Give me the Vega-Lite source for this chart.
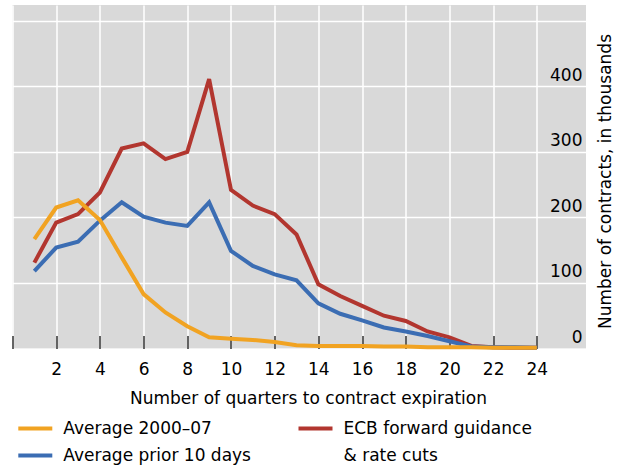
{
  "$schema": "https://vega.github.io/schema/vega-lite/v6.json",
  "autosize": {"type": "none"},
  "padding": {"left": 12.5, "top": 5, "right": 35, "bottom": 117.5},
  "width": 573.5,
  "height": 343.5,
  "background": "white",
  "config": {
    "font": "DejaVu Sans",
    "view": {"fill": "#d9d9d9", "stroke": null},
    "axis": {"labelFont": "DejaVu Sans", "titleFont": "DejaVu Sans", "labelColor": "black", "titleColor": "black", "titleFontWeight": "normal", "gridColor": "white", "gridOpacity": 1, "gridWidth": 1.5, "domain": false},
    "legend": {"labelFont": "DejaVu Sans", "labelFontSize": 17, "labelColor": "black", "symbolType": "stroke", "symbolSize": 1156, "symbolStrokeWidth": 4, "labelOffset": 9, "padding": 0, "rowPadding": -5, "labelLimit": 400, "orient": "none", "title": null}
  },
  "data": {
    "values": [
      {"q": 1, "v": 131, "s": "ECB forward guidance & rate cuts"},
      {"q": 2, "v": 192, "s": "ECB forward guidance & rate cuts"},
      {"q": 3, "v": 205, "s": "ECB forward guidance & rate cuts"},
      {"q": 4, "v": 238, "s": "ECB forward guidance & rate cuts"},
      {"q": 5, "v": 305, "s": "ECB forward guidance & rate cuts"},
      {"q": 6, "v": 313, "s": "ECB forward guidance & rate cuts"},
      {"q": 7, "v": 289, "s": "ECB forward guidance & rate cuts"},
      {"q": 8, "v": 300, "s": "ECB forward guidance & rate cuts"},
      {"q": 9, "v": 411, "s": "ECB forward guidance & rate cuts"},
      {"q": 10, "v": 242, "s": "ECB forward guidance & rate cuts"},
      {"q": 11, "v": 218, "s": "ECB forward guidance & rate cuts"},
      {"q": 12, "v": 205, "s": "ECB forward guidance & rate cuts"},
      {"q": 13, "v": 174, "s": "ECB forward guidance & rate cuts"},
      {"q": 14, "v": 98, "s": "ECB forward guidance & rate cuts"},
      {"q": 15, "v": 80, "s": "ECB forward guidance & rate cuts"},
      {"q": 16, "v": 65, "s": "ECB forward guidance & rate cuts"},
      {"q": 17, "v": 50, "s": "ECB forward guidance & rate cuts"},
      {"q": 18, "v": 42, "s": "ECB forward guidance & rate cuts"},
      {"q": 19, "v": 26, "s": "ECB forward guidance & rate cuts"},
      {"q": 20, "v": 17, "s": "ECB forward guidance & rate cuts"},
      {"q": 21, "v": 4, "s": "ECB forward guidance & rate cuts"},
      {"q": 22, "v": 2, "s": "ECB forward guidance & rate cuts"},
      {"q": 23, "v": 1, "s": "ECB forward guidance & rate cuts"},
      {"q": 24, "v": 1, "s": "ECB forward guidance & rate cuts"},
      {"q": 1, "v": 118, "s": "Average prior 10 days"},
      {"q": 2, "v": 154, "s": "Average prior 10 days"},
      {"q": 3, "v": 163, "s": "Average prior 10 days"},
      {"q": 4, "v": 195, "s": "Average prior 10 days"},
      {"q": 5, "v": 223, "s": "Average prior 10 days"},
      {"q": 6, "v": 201, "s": "Average prior 10 days"},
      {"q": 7, "v": 192, "s": "Average prior 10 days"},
      {"q": 8, "v": 187, "s": "Average prior 10 days"},
      {"q": 9, "v": 223, "s": "Average prior 10 days"},
      {"q": 10, "v": 149, "s": "Average prior 10 days"},
      {"q": 11, "v": 126, "s": "Average prior 10 days"},
      {"q": 12, "v": 113, "s": "Average prior 10 days"},
      {"q": 13, "v": 104, "s": "Average prior 10 days"},
      {"q": 14, "v": 69, "s": "Average prior 10 days"},
      {"q": 15, "v": 53, "s": "Average prior 10 days"},
      {"q": 16, "v": 43, "s": "Average prior 10 days"},
      {"q": 17, "v": 32, "s": "Average prior 10 days"},
      {"q": 18, "v": 26, "s": "Average prior 10 days"},
      {"q": 19, "v": 19, "s": "Average prior 10 days"},
      {"q": 20, "v": 11, "s": "Average prior 10 days"},
      {"q": 21, "v": 3, "s": "Average prior 10 days"},
      {"q": 22, "v": 2, "s": "Average prior 10 days"},
      {"q": 23, "v": 2, "s": "Average prior 10 days"},
      {"q": 24, "v": 1, "s": "Average prior 10 days"},
      {"q": 1, "v": 167, "s": "Average 2000–07"},
      {"q": 2, "v": 215, "s": "Average 2000–07"},
      {"q": 3, "v": 226, "s": "Average 2000–07"},
      {"q": 4, "v": 196, "s": "Average 2000–07"},
      {"q": 5, "v": 139, "s": "Average 2000–07"},
      {"q": 6, "v": 83, "s": "Average 2000–07"},
      {"q": 7, "v": 55, "s": "Average 2000–07"},
      {"q": 8, "v": 34, "s": "Average 2000–07"},
      {"q": 9, "v": 17, "s": "Average 2000–07"},
      {"q": 10, "v": 15, "s": "Average 2000–07"},
      {"q": 11, "v": 13, "s": "Average 2000–07"},
      {"q": 12, "v": 10, "s": "Average 2000–07"},
      {"q": 13, "v": 5, "s": "Average 2000–07"},
      {"q": 14, "v": 4, "s": "Average 2000–07"},
      {"q": 15, "v": 4, "s": "Average 2000–07"},
      {"q": 16, "v": 4, "s": "Average 2000–07"},
      {"q": 17, "v": 3, "s": "Average 2000–07"},
      {"q": 18, "v": 3, "s": "Average 2000–07"},
      {"q": 19, "v": 2, "s": "Average 2000–07"},
      {"q": 20, "v": 2, "s": "Average 2000–07"},
      {"q": 21, "v": 2, "s": "Average 2000–07"},
      {"q": 22, "v": 1, "s": "Average 2000–07"},
      {"q": 23, "v": 1, "s": "Average 2000–07"},
      {"q": 24, "v": 1, "s": "Average 2000–07"}
    ]
  },
  "encoding": {
    "x": {
      "field": "q", "type": "quantitative",
      "scale": {"domain": [0, 26.25], "nice": false, "zero": false},
      "axis": {
        "values": [0, 2, 4, 6, 8, 10, 12, 14, 16, 18, 20, 22, 24],
        "labelExpr": "datum.value == 0 ? '' : datum.label",
        "labelFontSize": 17, "labelPadding": 25.5, "labelFlush": false,
        "ticks": true, "tickSize": -13, "tickColor": "black", "tickWidth": 1.2,
        "title": "Number of quarters to contract expiration",
        "titleFontSize": 17, "titleX": 295.5, "titleY": 55, "titleAlign": "center", "titleBaseline": "alphabetic"
      }
    },
    "y": {
      "field": "v", "type": "quantitative",
      "scale": {"domain": [0, 524], "nice": false},
      "axis": {
        "orient": "right",
        "values": [0, 100, 200, 300, 400, 500],
        "labelExpr": "datum.value >= 500 ? '' : datum.label",
        "labelFontSize": 17, "labelAlign": "right", "labelBaseline": "alphabetic", "labelPadding": -4, "labelOffset": -6,
        "ticks": false, "tickSize": 0,
        "title": "Number of contracts, in thousands",
        "titleFontSize": 17, "titleAngle": 270, "titleX": 24, "titleY": 176, "titleAlign": "center", "titleBaseline": "alphabetic"
      }
    }
  },
  "layer": [
    {
      "transform": [{"filter": "datum.s == 'ECB forward guidance & rate cuts'"}],
      "mark": {"type": "line", "strokeWidth": 4, "strokeJoin": "miter"},
      "encoding": {
        "color": {
          "field": "s", "type": "nominal",
          "scale": {"domain": ["ECB forward guidance & rate cuts", "& rate cuts"], "range": ["#b2362f", "rgba(0,0,0,0)"]},
          "legend": {"labelExpr": "datum.label == 'ECB forward guidance & rate cuts' ? 'ECB forward guidance' : datum.label", "legendX": 284, "legendY": 404.5}
        }
      }
    },
    {
      "layer": [
        {
          "transform": [{"filter": "datum.s == 'Average prior 10 days'"}],
          "mark": {"type": "line", "strokeWidth": 4, "strokeJoin": "miter"},
          "encoding": {"color": {"field": "s", "type": "nominal"}}
        },
        {
          "transform": [{"filter": "datum.s == 'Average 2000–07'"}],
          "mark": {"type": "line", "strokeWidth": 4, "strokeJoin": "miter"},
          "encoding": {"color": {"field": "s", "type": "nominal"}}
        }
      ],
      "encoding": {
        "color": {
          "field": "s", "type": "nominal",
          "scale": {"domain": ["Average 2000–07", "Average prior 10 days"], "range": ["#f1a322", "#3b6db3"]},
          "legend": {"legendX": 3.8, "legendY": 404.5}
        }
      }
    }
  ],
  "resolve": {"scale": {"color": "independent"}, "legend": {"color": "independent"}}
}
